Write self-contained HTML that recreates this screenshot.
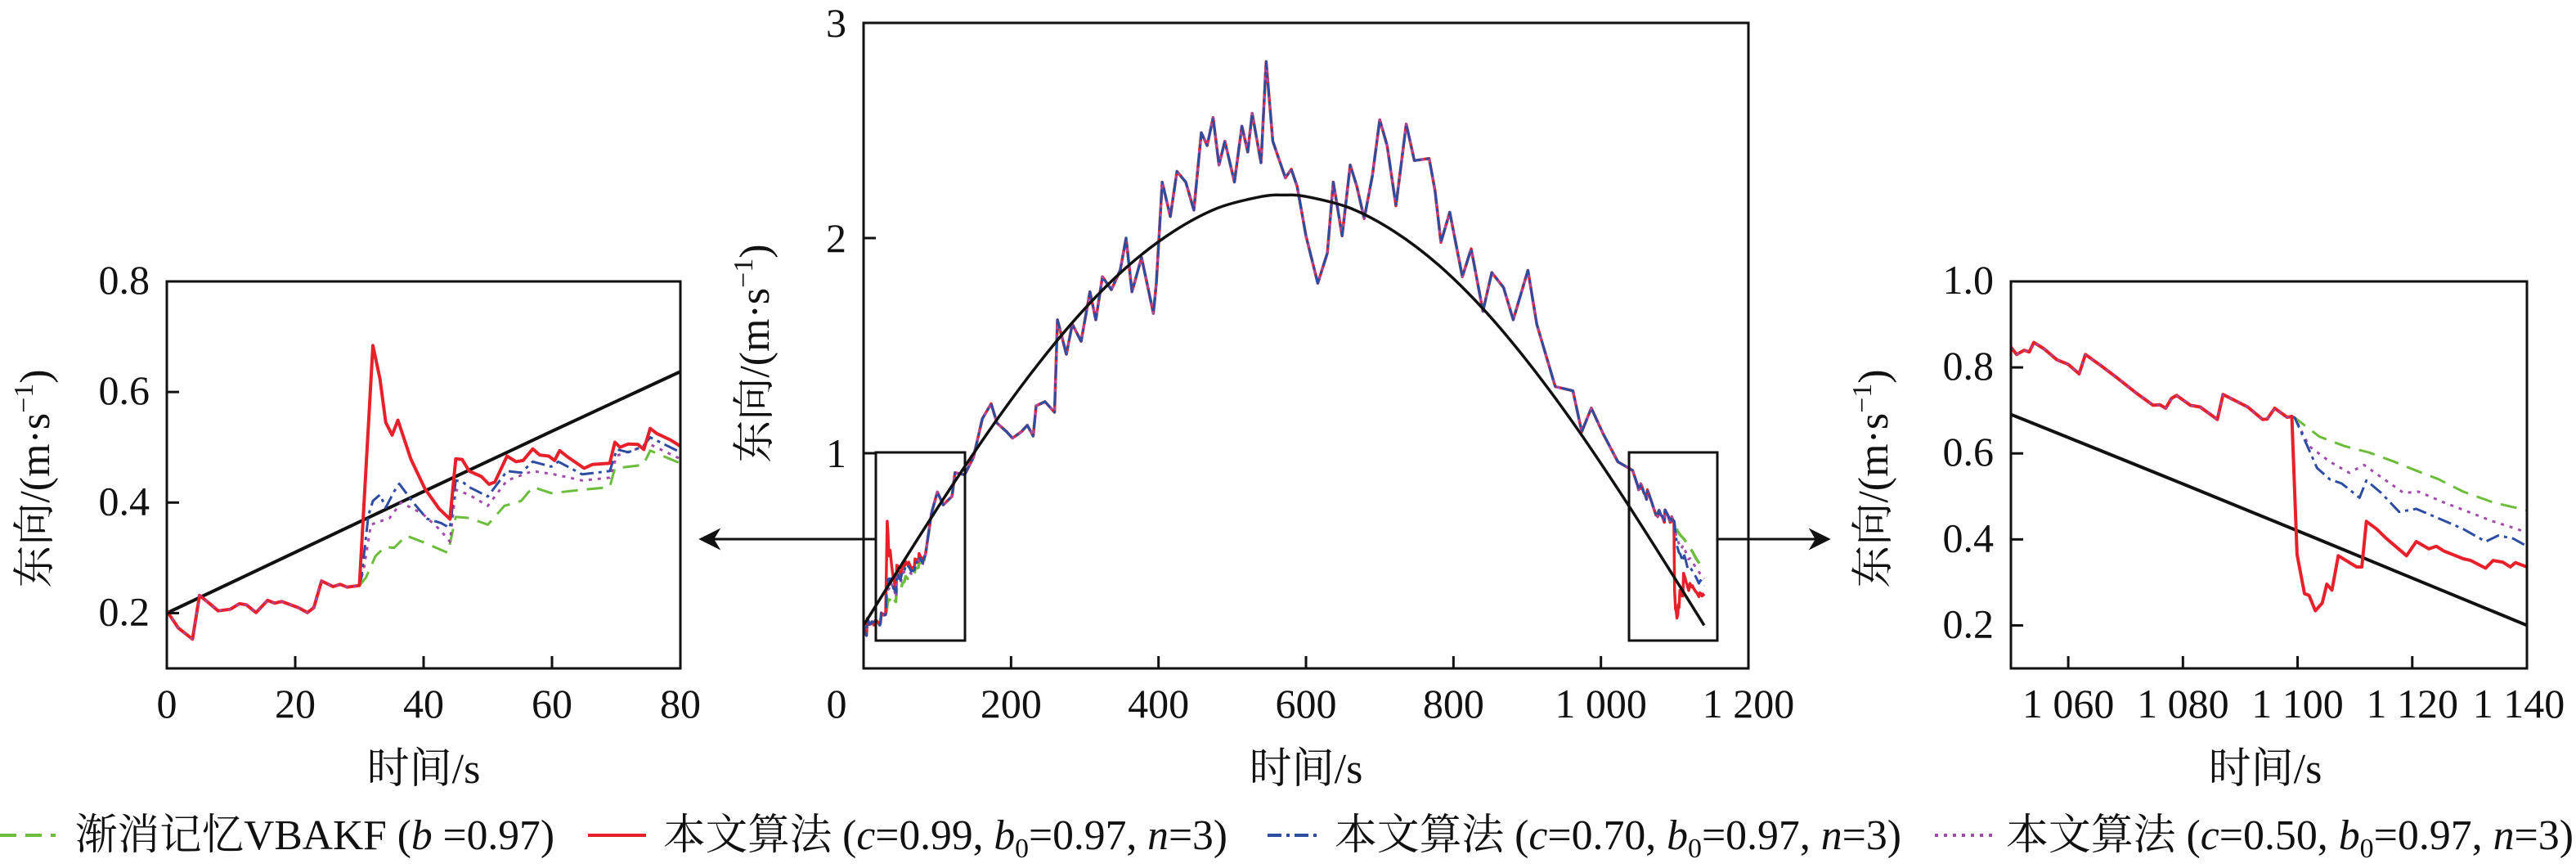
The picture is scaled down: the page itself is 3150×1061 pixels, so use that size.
<!DOCTYPE html>
<html><head><meta charset="utf-8"><style>
html,body{margin:0;padding:0;background:#fff;}
svg{display:block;}
text{font-family:"Liberation Serif","Noto Serif CJK SC","Noto Sans CJK SC",serif;fill:#111;}
</style></head><body>
<svg id="fig" xmlns="http://www.w3.org/2000/svg" width="3150" height="1061" viewBox="0 0 3150 1061">
<defs>
<clipPath id="clipL"><rect x="204" y="344" width="628" height="473"/></clipPath>
<clipPath id="clipM"><rect x="1056" y="28" width="1082" height="789"/></clipPath>
<clipPath id="clipR"><rect x="2459" y="344" width="631" height="473"/></clipPath>
<marker id="ah" viewBox="0 0 10 10" refX="9" refY="5" markerWidth="9" markerHeight="9" orient="auto-start-reverse"><path d="M0,0 L10,5 L0,10 L3,5 z" fill="#111"/></marker>
</defs>
<g id="left"></g>
<g id="main"></g>
<g id="right"></g>
<g id="legend"></g>
</svg>
<script>
// ---- truth curve samples ----
const truthT = [0,60,120,180,240,300,360,420,480,540,570,600,660,720,780,840,900,960,1020,1080,1140];
const truthV = [0.2,0.529,0.849,1.152,1.428,1.672,1.874,2.03,2.139,2.193,2.2,2.193,2.139,2.03,1.874,1.672,1.428,1.152,0.849,0.529,0.2];
// ---- main chart common estimate (t 84..1043) ----
const midT = [84,92,100,108,120,124,137,149,161,173,181,194,202,214,222,230,234,246,259,263,275,283,295,307,315,324,336,348,356,364,377,393,397,405,416,425,437,448,458,466,474,482,490,503,513,521,527,539,546,555,572,580,588,600,616,629,637,649,660,669,679,690,700,710,722,736,747,767,775,783,795,812,824,840,852,868,881,901,913,938,962,974,987,1003,1023,1043];
const midV = [0.53,0.72,0.82,0.76,0.80,0.91,0.90,0.98,1.16,1.23,1.14,1.10,1.07,1.10,1.13,1.08,1.22,1.24,1.19,1.62,1.46,1.60,1.52,1.75,1.62,1.82,1.76,1.85,2.00,1.75,1.91,1.65,1.79,2.26,2.10,2.31,2.26,2.13,2.49,2.43,2.56,2.34,2.45,2.26,2.52,2.40,2.58,2.35,2.82,2.45,2.28,2.32,2.24,2.01,1.79,1.93,2.26,2.01,2.34,2.24,2.09,2.29,2.55,2.43,2.15,2.53,2.36,2.37,2.22,1.98,2.12,1.82,1.95,1.66,1.84,1.77,1.62,1.85,1.60,1.31,1.29,1.10,1.21,1.09,0.96,0.92];
// ---- left inset (t 0..80) ----
const leftCommonT = [0,1.8,4,5.1,6.6,8,9.9,11.3,12.4,13.9,15.7,16.8,17.9,20.5,21.9,22.9,24.1,25.9,27,28.1,30];
const leftCommonV = [0.204,0.173,0.153,0.232,0.218,0.204,0.207,0.217,0.215,0.201,0.223,0.218,0.221,0.21,0.201,0.21,0.258,0.248,0.252,0.247,0.25];
const leftRedT = [32.1,33.2,34.1,35.1,36,38,40.2,42.4,44.1,45,46,47.1,49,50.2,51.1,53,54.4,55.5,57,58.1,59.5,60.4,61.2,62.5,65,66.3,69,69.8,70.6,71.9,73.4,74.3,75.3,76.3,78.5,80];
const leftRedV = [0.684,0.624,0.545,0.522,0.549,0.479,0.425,0.389,0.37,0.479,0.478,0.457,0.447,0.433,0.437,0.484,0.474,0.476,0.497,0.486,0.484,0.476,0.494,0.482,0.462,0.469,0.471,0.509,0.5,0.506,0.505,0.496,0.534,0.525,0.513,0.502];
const leftBlueT = [30.3,31.4,32.1,33.2,34.1,35.4,36.2,38.4,40.5,42.7,44.1,45,46,47.1,50,53,55.2,57,59.9,61,64.7,69,70.1,71.9,74.2,75.3,80];
const leftBlueV = [0.264,0.377,0.403,0.414,0.391,0.42,0.434,0.4,0.371,0.363,0.354,0.44,0.438,0.428,0.411,0.457,0.454,0.474,0.465,0.474,0.451,0.457,0.496,0.491,0.502,0.518,0.491];
const leftPurpleT = [30.7,31.8,34.7,36.5,39.8,42.7,44.1,45,47.1,50,53,57,60.3,64.7,69,70.1,75.3,80];
const leftPurpleV = [0.281,0.36,0.372,0.4,0.38,0.349,0.329,0.423,0.414,0.394,0.44,0.457,0.451,0.44,0.445,0.485,0.505,0.479];
const leftGreenT = [31,32.5,34,35.4,37.3,39.8,43.8,45,47.1,50,52.6,55.2,57,59.9,64.7,69,69.8,74.2,75.3,80];
const leftGreenV = [0.264,0.303,0.32,0.318,0.34,0.329,0.309,0.374,0.372,0.36,0.394,0.403,0.428,0.417,0.423,0.428,0.462,0.468,0.494,0.471];
// ---- right inset (t 1050..1140) ----
const rightCommonT = [1050,1051,1052.3,1053.2,1054,1055.8,1058,1060,1061.9,1063,1065.8,1068.3,1071.8,1074.8,1076,1077,1078,1078.9,1081.3,1083,1086,1087,1089.1,1091.3,1093.9,1094.7,1096,1098.2,1099];
const rightCommonV = [0.847,0.83,0.84,0.836,0.858,0.843,0.818,0.807,0.785,0.83,0.803,0.778,0.741,0.712,0.713,0.705,0.728,0.735,0.712,0.708,0.679,0.737,0.723,0.708,0.679,0.68,0.705,0.684,0.686];
const rightRedT = [1099.9,1101.2,1102,1103.1,1104.3,1105.1,1106,1107.1,1110.3,1111.2,1112,1113.8,1115.5,1119,1120.7,1122.9,1124.2,1125.5,1128.9,1130.2,1132.8,1134.1,1135.8,1137.1,1138,1140];
const rightRedV = [0.365,0.274,0.27,0.234,0.252,0.296,0.282,0.362,0.336,0.336,0.442,0.424,0.402,0.362,0.395,0.378,0.384,0.373,0.355,0.351,0.333,0.351,0.347,0.336,0.346,0.336];
const rightGreenT = [1099.5,1103.8,1108.2,1112.5,1116.8,1120.3,1124.6,1128.9,1134.1,1137.6,1140];
const rightGreenV = [0.683,0.639,0.617,0.602,0.581,0.562,0.54,0.511,0.486,0.475,0.468];
const rightBlueT = [1099.5,1101.2,1103.4,1105.6,1107.7,1110.8,1112,1114.6,1117.7,1120.7,1124.6,1128.9,1132.8,1135,1137.6,1140];
const rightBlueV = [0.683,0.632,0.566,0.54,0.53,0.497,0.537,0.508,0.464,0.471,0.449,0.424,0.395,0.409,0.402,0.384];
const rightPurpleT = [1099.5,1102,1105.6,1109,1111.6,1115.1,1118.5,1121.1,1125.5,1129.8,1134.1,1137.6,1140];
const rightPurpleV = [0.683,0.617,0.581,0.555,0.573,0.54,0.508,0.511,0.486,0.464,0.442,0.427,0.416];
// ---- ticks ----
const mainXTicks = [0,200,400,600,800,1000,1200];
const mainXLabels = ["0","200","400","600","800","1 000","1 200"];
const mainYTicks = [0,1,2,3];
const mainYLabels = ["","1","2","3"];
const leftXTicks = [0,20,40,60,80];
const leftYTicks = [0.2,0.4,0.6,0.8];
const leftYLabels = ["0.2","0.4","0.6","0.8"];
const rightXTicks = [1060,1080,1100,1120,1140];
const rightXLabels = ["1 060","1 080","1 100","1 120","1 140"];
const rightYTicks = [0.2,0.4,0.6,0.8,1.0];
const rightYLabels = ["0.2","0.4","0.6","0.8","1.0"];

const NS = "http://www.w3.org/2000/svg";
const TICKFS = 50, TITLEFS = 52;
function el(tag, attrs, parent){ const e=document.createElementNS(NS,tag); for(const k in attrs) e.setAttribute(k,attrs[k]); parent.appendChild(e); return e; }
function scale(d0,d1,r0,r1){ return v => r0 + (v-d0)/(d1-d0)*(r1-r0); }

const COL = {green:"#6dbd3c", red:"#e8202a", blue:"#2d4da3", purple:"#a24bab", black:"#111"};
const DASH = {green:"20,11", blue:"17,6,4,6", purple:"4,7", red:"", black:""};

function drawLine(g, ts, vs, sx, sy, key, w, name){
  const pts = ts.map((t,i)=> sx(t).toFixed(1)+","+sy(vs[i]).toFixed(1)).join(" ");
  const p = el("polyline",{points:pts,fill:"none",stroke:COL[key],"stroke-width":w,"stroke-linejoin":"round","stroke-dasharray":DASH[key]},g);
  
  
  return p;
}
function drawSmooth(g, ts, vs, sx, sy, key, w, name){
  const P = ts.map((t,i)=>[sx(t), sy(vs[i])]);
  let d = "M"+P[0][0].toFixed(1)+","+P[0][1].toFixed(1);
  for(let i=0;i<P.length-1;i++){
    const p0=P[Math.max(0,i-1)], p1=P[i], p2=P[i+1], p3=P[Math.min(P.length-1,i+2)];
    const c1=[p1[0]+(p2[0]-p0[0])/6, p1[1]+(p2[1]-p0[1])/6];
    const c2=[p2[0]-(p3[0]-p1[0])/6, p2[1]-(p3[1]-p1[1])/6];
    d += " C"+c1[0].toFixed(1)+","+c1[1].toFixed(1)+" "+c2[0].toFixed(1)+","+c2[1].toFixed(1)+" "+p2[0].toFixed(1)+","+p2[1].toFixed(1);
  }
  const p = el("path",{d:d,fill:"none",stroke:COL[key],"stroke-width":w},g);
  
  
  return p;
}
function addText(g, x, y, str, size, anchor, name){
  const t = el("text",{x:x,y:y,"font-size":size,"text-anchor":anchor},g);
  t.textContent = str;
  
  
  return t;
}
function yTitle(g, cx, cy, name){
  const t = el("text",{x:0,y:0,"font-size":TITLEFS,"text-anchor":"middle",transform:"translate("+cx+","+cy+") rotate(-90)"},g);
  
  
  t.innerHTML = '东向/(m·s<tspan font-size="34" dy="-20">−1</tspan><tspan dy="20">)</tspan>';
}
function frame(g, x0,y0,x1,y1, name){
  const r = el("rect",{x:x0,y:y0,width:x1-x0,height:y1-y0,fill:"none",stroke:"#111","stroke-width":3},g);
  
  
}
function tickX(g, sx, y1, ticks, labels, labY, name){
  ticks.forEach((v,i)=>{ const x=sx(v);
    const l = el("line",{x1:x,y1:y1,x2:x,y2:y1-15,stroke:"#111","stroke-width":3},g);
    
    
    addText(g, x, labY, labels[i], TICKFS, "middle", name+'-label');
  });
}
function tickY(g, sy, x0, ticks, labels, labX, name){
  ticks.forEach((v,i)=>{ const y=sy(v);
    const l = el("line",{x1:x0,y1:y,x2:x0+15,y2:y,stroke:"#111","stroke-width":3},g);
    
    
    addText(g, labX, y+15, labels[i], TICKFS, "end", name+'-label');
  });
}

// ===== LEFT INSET =====
(function(){
  const g = document.getElementById("left");
  const sx = scale(0,80,204,832), sy = scale(0.1,0.8,817,344);
  const pg = el("g",{"clip-path":"url(#clipL)"},g);
  
  
  drawSmooth(pg, truthT, truthV, sx, sy, "black", 4, "left-truth-line");
  const last = leftCommonT.length-1;
  drawLine(pg, [leftCommonT[last]].concat(leftGreenT), [leftCommonV[last]].concat(leftGreenV), sx, sy, "green", 3, "left-green-series");
  drawLine(pg, [leftCommonT[last]].concat(leftPurpleT), [leftCommonV[last]].concat(leftPurpleV), sx, sy, "purple", 3, "left-purple-series");
  drawLine(pg, [leftCommonT[last]].concat(leftBlueT), [leftCommonV[last]].concat(leftBlueV), sx, sy, "blue", 3, "left-blue-series");
  drawLine(pg, leftCommonT.concat(leftRedT), leftCommonV.concat(leftRedV), sx, sy, "red", 4, "left-red-series");
  drawLine(pg, leftCommonT, leftCommonV, sx, sy, "purple", 2, "left-common-overlay");
  frame(g,204,344,832,817,"left-frame");
  tickX(g, sx, 817, leftXTicks, leftXTicks.map(String), 877, "left-x");
  tickY(g, sy, 204, leftYTicks, leftYLabels, 183, "left-y");
  yTitle(g, 60, 585, "left-y-axis-title");
  addText(g, 518, 957, "时间/s", TITLEFS, "middle", "left-x-axis-title");
})();

// ===== MAIN =====
(function(){
  const g = document.getElementById("main");
  const sx = scale(0,1200,1056,2138), sy = scale(0,3,817,28);
  const pg = el("g",{"clip-path":"url(#clipM)"},g);
  
  
  const lcT = leftCommonT, lcV = leftCommonV;
  function full(lt, lv, rt, rv){ return [lcT.concat(lt).concat(midT).concat(rightCommonT).concat(rt), lcV.concat(lv).concat(midV).concat(rightCommonV).concat(rv)]; }
  const G = full(leftGreenT,leftGreenV,rightGreenT,rightGreenV);
  const R = full(leftRedT,leftRedV,rightRedT,rightRedV);
  const P = full(leftPurpleT,leftPurpleV,rightPurpleT,rightPurpleV);
  const B = full(leftBlueT,leftBlueV,rightBlueT,rightBlueV);
  drawLine(pg, G[0], G[1], sx, sy, "green", 3.5, "main-green-series");
  drawLine(pg, R[0], R[1], sx, sy, "red", 3.5, "main-red-series");
  drawLine(pg, P[0], P[1], sx, sy, "purple", 3, "main-purple-series");
  drawLine(pg, B[0], B[1], sx, sy, "blue", 3, "main-blue-series");
  drawSmooth(pg, truthT, truthV, sx, sy, "black", 3.5, "main-truth-line");
  frame(g,1056,28,2138,817,"main-frame");
  const zb1 = el("rect",{x:1071,y:553,width:109,height:230,fill:"none",stroke:"#111","stroke-width":3},g);
  
  
  const zb2 = el("rect",{x:1992,y:553,width:108,height:230,fill:"none",stroke:"#111","stroke-width":3},g);
  
  
  const a1 = el("line",{x1:1071,y1:659,x2:857,y2:659,stroke:"#111","stroke-width":3,"marker-end":"url(#ah)"},g);
  
  
  const a2 = el("line",{x1:2100,y1:659,x2:2236,y2:659,stroke:"#111","stroke-width":3,"marker-end":"url(#ah)"},g);
  
  
  mainXTicks.forEach((v,i)=>{ const x=sx(v);
    if(i>0 && i<mainXTicks.length-1){ const l=el("line",{x1:x,y1:817,x2:x,y2:802,stroke:"#111","stroke-width":3},g);
      
       }
    addText(g, i===0? 1023 : x, 877, mainXLabels[i], TICKFS, "middle", "main-x-label");
  });
  mainYTicks.forEach((v,i)=>{ const y=sy(v);
    if(i>0 && i<3){ const l=el("line",{x1:1056,y1:y,x2:1071,y2:y,stroke:"#111","stroke-width":3},g);
      
       }
    if(mainYLabels[i]) addText(g, 1035, y+17, mainYLabels[i], TICKFS, "end", "main-y-label");
  });
  yTitle(g, 940, 432, "main-y-axis-title");
  addText(g, 1597, 957, "时间/s", TITLEFS, "middle", "main-x-axis-title");
})();

// ===== RIGHT INSET =====
(function(){
  const g = document.getElementById("right");
  const sx = scale(1050,1140,2459,3090), sy = scale(0.1,1.0,817,344);
  const pg = el("g",{"clip-path":"url(#clipR)"},g);
  
  
  drawSmooth(pg, truthT, truthV, sx, sy, "black", 4, "right-truth-line");
  const last = rightCommonT.length-1;
  drawLine(pg, [rightCommonT[last]].concat(rightGreenT), [rightCommonV[last]].concat(rightGreenV), sx, sy, "green", 3, "right-green-series");
  drawLine(pg, [rightCommonT[last]].concat(rightPurpleT), [rightCommonV[last]].concat(rightPurpleV), sx, sy, "purple", 3, "right-purple-series");
  drawLine(pg, [rightCommonT[last]].concat(rightBlueT), [rightCommonV[last]].concat(rightBlueV), sx, sy, "blue", 3, "right-blue-series");
  drawLine(pg, rightCommonT.concat(rightRedT), rightCommonV.concat(rightRedV), sx, sy, "red", 4, "right-red-series");
  drawLine(pg, rightCommonT, rightCommonV, sx, sy, "purple", 2, "right-common-overlay");
  frame(g,2459,344,3090,817,"right-frame");
  rightXTicks.forEach((v,i)=>{ const x=sx(v);
    if(i<rightXTicks.length-1){ const l=el("line",{x1:x,y1:817,x2:x,y2:802,stroke:"#111","stroke-width":3},g);
      
       }
    addText(g, i===rightXTicks.length-1 ? 3080 : x, 877, rightXLabels[i], TICKFS, "middle", "right-x-label");
  });
  tickY(g, sy, 2459, rightYTicks.slice(0,4), rightYLabels.slice(0,4), 2438, "right-y");
  addText(g, 2438, sy(1.0)+15, rightYLabels[4], TICKFS, "end", "right-y-label");
  yTitle(g, 2308, 585, "right-y-axis-title");
  addText(g, 2770, 957, "时间/s", TITLEFS, "middle", "right-x-axis-title");
})();

// ===== LEGEND =====
(function(){
  const g = document.getElementById("legend");
  const y = 1021;
  function sample(x0,x1,key,name){
    const l = el("line",{x1:x0,y1:y,x2:x1,y2:y,stroke:COL[key],"stroke-width":4,"stroke-dasharray":DASH[key]},g);
    
    
  }
  function label(x,len,html,name){
    const t = el("text",{x:x,y:y+17,"font-size":TITLEFS,textLength:len,lengthAdjust:"spacingAndGlyphs"},g);
    
    
    t.innerHTML = html;
  }
  sample(0,68,"green","legend-green-swatch");
  label(92,586,'渐消记忆VBAKF (<tspan font-style="italic">b</tspan> =0.97)',"legend-green-label");
  sample(719,790,"red","legend-red-swatch");
  label(811,690,'本文算法 (<tspan font-style="italic">c</tspan>=0.99, <tspan font-style="italic">b</tspan><tspan font-size="34" dy="10">0</tspan><tspan dy="-10">=0.97, </tspan><tspan font-style="italic">n</tspan>=3)',"legend-red-label");
  sample(1550,1612,"blue","legend-blue-swatch");
  label(1632,693,'本文算法 (<tspan font-style="italic">c</tspan>=0.70, <tspan font-style="italic">b</tspan><tspan font-size="34" dy="10">0</tspan><tspan dy="-10">=0.97, </tspan><tspan font-style="italic">n</tspan>=3)',"legend-blue-label");
  sample(2366,2440,"purple","legend-purple-swatch");
  label(2453,694,'本文算法 (<tspan font-style="italic">c</tspan>=0.50, <tspan font-style="italic">b</tspan><tspan font-size="34" dy="10">0</tspan><tspan dy="-10">=0.97, </tspan><tspan font-style="italic">n</tspan>=3)',"legend-purple-label");
})();
</script>
</body></html>
